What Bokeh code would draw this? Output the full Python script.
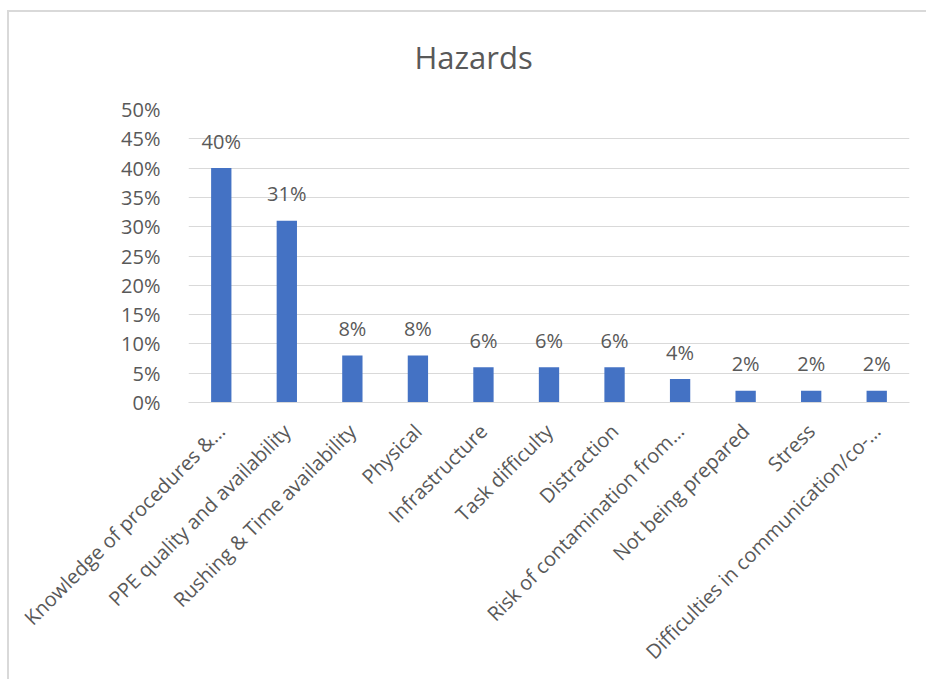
from bokeh.plotting import figure
from bokeh.models import (ColumnDataSource, FactorRange, Range1d, FixedTicker,
                          NumeralTickFormatter)
from bokeh.core.properties import value
from bokeh.embed import file_html
from bokeh.resources import INLINE
import math

# Hazard categories (long names shortened with an ellipsis) and their shares
categories = [
    "Knowledge of procedures &…",
    "PPE quality and availability",
    "Rushing & Time availability",
    "Physical",
    "Infrastructure",
    "Task difficulty",
    "Distraction",
    "Risk of contamination from…",
    "Not being prepared",
    "Stress",
    "Difficulties in communication/co-…",
]
shares = [0.40, 0.31, 0.08, 0.08, 0.06, 0.06, 0.06, 0.04, 0.02, 0.02, 0.02]
y_ticks = [0.0, 0.05, 0.10, 0.15, 0.20, 0.25, 0.30, 0.35, 0.40, 0.45, 0.50]
chart_title = "Hazards"

FONT = "Open Sans"
TEXT_GREY = "#595959"
GRID_GREY = "#d9d9d9"
BAR_BLUE = "#4472C4"

source = ColumnDataSource(dict(
    cat=categories,
    share=shares,
    label=[f"{round(v * 100)}%" for v in shares],
))

p = figure(
    width=926, height=679,
    x_range=FactorRange(*categories, range_padding=0),
    y_range=Range1d(0, 0.5),
    output_backend="svg",
    toolbar_location=None,
    min_border_left=188, min_border_right=17,
    min_border_top=109, min_border_bottom=277,
)
# transparent canvas border so the element's background lines show through
p.border_fill_color = None
p.background_fill_color = "white"
p.outline_line_color = None
p.styles = {
    "overflow": "hidden",
    "vertical-align": "top",
    "margin-bottom": "-12px",
    "margin-right": "-12px",
    "background":
        "linear-gradient(#d9d9d9, #d9d9d9) 7px 10px / 2px 100% no-repeat, "
        "linear-gradient(#d9d9d9, #d9d9d9) 7px 10px / 100% 2px no-repeat, "
        "white",
}

# chart title
p.title.text = chart_title
p.title.align = "left"
p.title.offset = 226
p.title.standoff = 64
p.title.text_font = FONT
p.title.text_font_size = "31px"
p.title.text_font_style = "normal"
p.title.text_color = TEXT_GREY

p.vbar(x="cat", top="share", width=0.31, source=source,
       fill_color=BAR_BLUE, line_color=None)

# value labels above each bar
p.text(x="cat", y="share", text="label", source=source,
       text_font=value(FONT), text_font_size="20px", text_color=TEXT_GREY,
       text_align="center", text_baseline="alphabetic", y_offset=-27)

# y axis: percentage ticks, no axis line or tick marks
p.yaxis.ticker = FixedTicker(ticks=y_ticks)
p.yaxis.formatter = NumeralTickFormatter(format="0%")
p.yaxis.axis_line_color = None
p.yaxis.major_tick_line_color = None
p.yaxis.minor_tick_line_color = None
p.yaxis.major_label_standoff = 22
p.yaxis.major_label_text_font = FONT
p.yaxis.major_label_text_font_size = "20px"
p.yaxis.major_label_text_color = TEXT_GREY

# x axis: rotated category names
p.xaxis.axis_line_color = GRID_GREY
p.xaxis.axis_line_width = 1
p.xaxis.major_tick_line_color = None
p.xaxis.minor_tick_line_color = None
p.xaxis.major_label_orientation = math.pi / 4
p.xaxis.major_label_standoff = 19
p.xaxis.major_label_text_font = FONT
p.xaxis.major_label_text_font_size = "20px"
p.xaxis.major_label_text_color = TEXT_GREY

p.xgrid.grid_line_color = None
p.ygrid.grid_line_color = GRID_GREY
p.ygrid.grid_line_width = 1

open("out.html", "w").write(file_html(p, INLINE))
